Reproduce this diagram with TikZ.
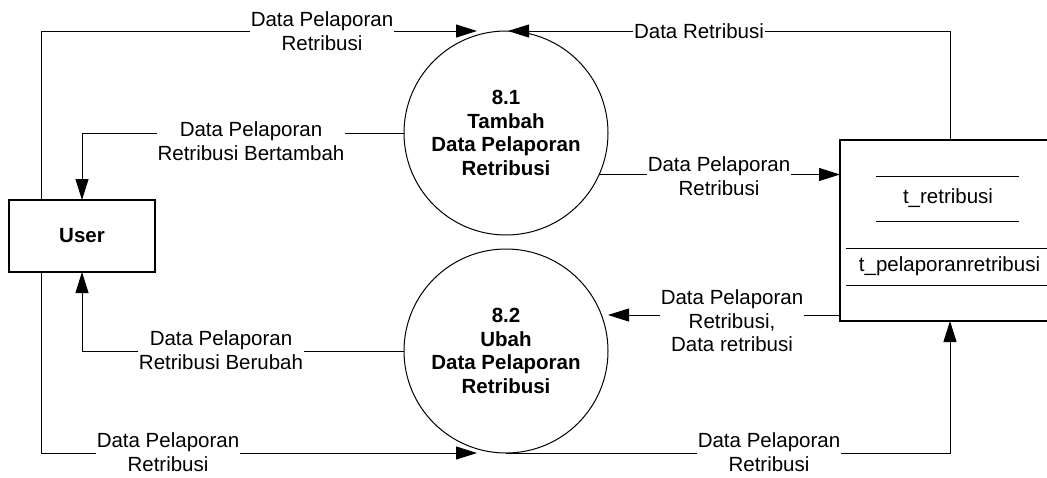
\documentclass[tikz,border=0pt]{standalone}
\usepackage{fontspec}
\setmainfont{Liberation Sans}
\usetikzlibrary{arrows.meta}
\tikzset{
  every node/.style={outer sep=0pt, font=\fontsize{20.5}{23.5}\selectfont},
  proc/.style={circle, draw, line width=1pt, minimum size=204pt, inner sep=0pt, align=center, font=\fontsize{20.5}{23.7}\selectfont\bfseries},
  entity/.style={rectangle, draw, line width=1.2pt, minimum width=146pt, minimum height=72pt, inner sep=0pt, font=\fontsize{20.5}{23.7}\selectfont\bfseries},
  storebox/.style={rectangle, draw, line width=2pt, minimum width=212pt, minimum height=181pt, inner sep=0pt},
  flow/.style={line width=1pt, -{Triangle[length=21pt,width=13pt]}},
  plain/.style={line width=1pt},
  lbl/.style={fill=white, align=center, inner xsep=1pt, inner ysep=0pt},
  sline/.style={line width=1pt}
}
\begin{document}
\begin{tikzpicture}[x=1pt,y=-1pt]
\useasboundingbox (0,0) rectangle (1047,477);
\clip (0,0) rectangle (1047,477);
\fill[white] (0,0) rectangle (1047,477);

% nodes
\node[entity] (user) at (82,236) {User};
\node[proc] (p1) at (506,133) {8.1\\Tambah\\Data Pelaporan\\Retribusi};
\node[proc] (p2) at (506,351) {8.2\\Ubah\\Data Pelaporan\\Retribusi};
\node[storebox] (store) at (946,230.5) {};
\draw[sline] (876,176) -- (1019,176);
\draw[sline] (876,221) -- (1019,221);
\draw[sline] (846,248) -- (1047,248);
\draw[sline] (846,285) -- (1047,285);
\node (s1) at (948,198) {t\_retribusi};
\node (s2) at (949.5,266) {t\_pelaporanretribusi};

% connectors
\draw[flow] ([xshift=32pt]user.north west) |- ([xshift=-29pt]p1.north);
\draw[flow] ([xshift=110pt]store.north west) |- ([xshift=2pt]p1.north);
\draw[flow] (p1.west) -| (user.north);
\draw[flow] (p1.-24.9) -- (p1.-24.9 -| store.west);
\draw[flow] ([yshift=6pt]store.south west) -- ([yshift=36pt]p2.east);
\draw[flow] (p2.west) -| (user.south);
\draw[flow] ([xshift=32pt]user.south west) |- ([xshift=-29pt]p2.south);
\draw[flow] (p2.south) -| ([xshift=110pt]store.south west);

% labels
\node[lbl] (l1) at (322,31) {Data Pelaporan\\Retribusi};
\node[lbl] (l2) at (699,31) {Data Retribusi};
\node[lbl] (l3) at (251,141) {Data Pelaporan\\Retribusi Bertambah};
\node[lbl] (l4) at (719,176) {Data Pelaporan\\Retribusi};
\node[lbl] (l5) at (732,321) {Data Pelaporan\\Retribusi,\\Data retribusi};
\node[lbl] (l6) at (221,350) {Data Pelaporan\\Retribusi Berubah};
\node[lbl] (l7) at (168,452) {Data Pelaporan\\Retribusi};
\node[lbl] (l8) at (769,452) {Data Pelaporan\\Retribusi};
\end{tikzpicture}
\end{document}
